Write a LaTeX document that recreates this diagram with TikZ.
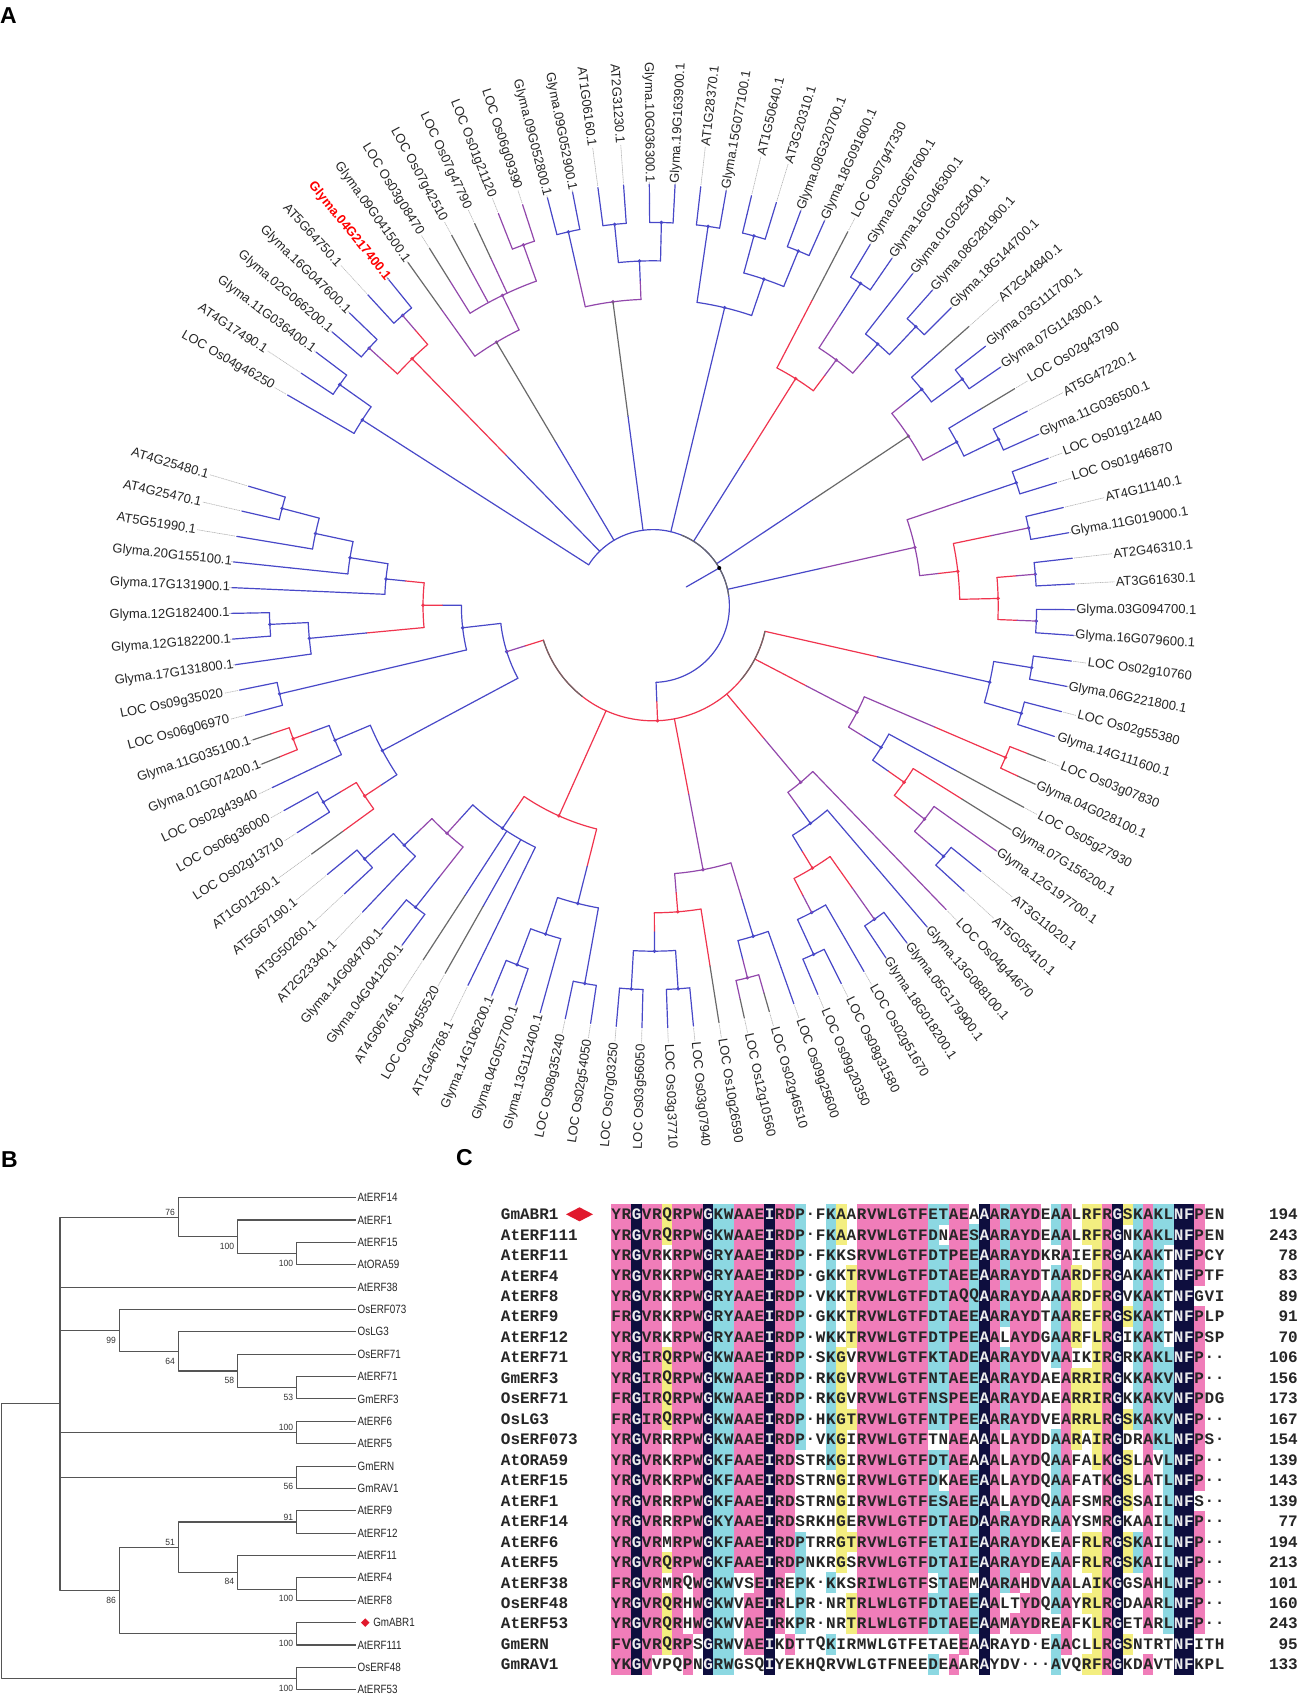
\documentclass[tikz,border=0pt]{standalone}
\usepackage{fontspec}
\setmainfont{Liberation Sans}
\newfontfamily\seqfont{Liberation Mono}
\usepackage{xstring}

\definecolor{bl}{RGB}{72,72,200}
\definecolor{rd}{RGB}{240,52,78}
\definecolor{pu}{RGB}{146,72,172}
\definecolor{gy}{RGB}{105,105,105}
\definecolor{treeg}{RGB}{85,85,85}
\definecolor{colp}{RGB}{240,125,185}
\definecolor{colc}{RGB}{140,216,226}
\definecolor{coly}{RGB}{243,238,128}
\definecolor{coln}{RGB}{14,14,62}
\definecolor{dmd}{RGB}{225,25,45}

% clade: height, first child, last child, colour, children pos/height/colour
\newcommand{\cl}[5]{%
  \pgfmathsetmacro\rpar{422-38.4*#1}%
  \pgfmathsetmacro\angA{150-3.5*(#2-1)}%
  \pgfmathsetmacro\angB{150-3.5*(#3-1)}%
  \draw[#4] (\angA:\rpar) arc[start angle=\angA, end angle=\angB, radius=\rpar];%
  \foreach \pp/\hh/\ccol in {#5}{%
    \pgfmathsetmacro\aa{150-3.5*(\pp-1)}%
    \pgfmathsetmacro\rch{422-38.4*\hh}%
    \pgfmathsetmacro\rmid{(\rpar+\rch)/2}%
    \draw[#4] (\aa:\rpar) -- (\aa:\rmid);
    \draw[\ccol] (\aa:\rmid) -- (\aa:\rch);
  }%
  \fill[#4] ({(\angA+\angB)/2}:\rpar) circle (1.9);%
}
\newcommand{\hilite}[1]{\textcolor{red}{\bfseries #1}}
\newcommand{\yB}[1]{-1197.6-22.37*#1}

\def\colspec{p/YF,p/RKV,n/G,p/VI,p/R,y/Q,p/R,p/P,p/W,n/G,c/KR,c/WYF,p/A,p/A,p/E,n/I,p/R,p/D,c/P,w/+,w/+,c/K,y/GA,y/T,p/R,p/VIL,p/W,p/L,p/G,p/T,p/F,c/DENK,c/TS,p/AP,p/EQDI,c/EDQS,n/A,p/A,c/R,p/A,p/Y,p/D,w/+,c/A,p/A,y/R,y/R,y/FIL,p/RK,n/G,y/S,c/K,p/A,c/K,c/LVI,n/N,n/F,p/P,w/+,w/+}

\tikzset{
  lab/.style={font=\fontsize{13}{15}\selectfont, inner sep=1pt, text=black!85},
  dotl/.style={gray!55, densely dotted, line width=0.7},
  leafB/.style={anchor=west, inner sep=1.5pt, font=\fontsize{12}{14}\selectfont, xscale=.82, text=black!85},
  bs/.style={anchor=east, inner sep=0pt, font=\fontsize{9}{10}\selectfont, xscale=.95, text=black!80},
  res/.style={font=\seqfont\bfseries\fontsize{16}{16}\selectfont, inner sep=0pt},
  panel/.style={font=\bfseries\fontsize{23}{23}\selectfont, inner sep=0pt}
}

\begin{document}
\begin{tikzpicture}[x=1pt, y=1pt, line join=round]
\useasboundingbox (0,0) rectangle (1299,-1695);
\fill[white] (0,0) rectangle (1299,-1695);

% A
\node[panel, anchor=north west] at (0,-7.5) {A};
\begin{scope}[shift={(653,-606)}, line width=1.2, line cap=round]
\cl{1}{2}{3}{bl}{2/0/bl,3/0/bl}
\cl{2}{1}{2.5}{bl}{1/0/bl,2.5/1/bl}
\cl{1}{4}{5}{bl}{4/0/bl,5/0/bl}
\cl{1}{6}{7}{bl}{6/0/bl,7/0/bl}
\cl{2}{4.5}{6.5}{rd}{4.5/1/pu,6.5/1/pu}
\cl{1}{12}{13}{pu}{12/0/pu,13/0/pu}
\cl{2}{9}{12.5}{pu}{9/0/gy,10/0/gy,11/0/gy,12.5/1/pu}
\cl{3}{8}{10.75}{pu}{8/0/gy,10.75/2/pu}
\cl{1}{14}{15}{bl}{14/0/bl,15/0/bl}
\cl{1}{16}{17}{bl}{16/0/bl,17/0/bl}
\cl{1}{18}{19}{bl}{18/0/bl,19/0/bl}
\cl{2}{16.5}{18.5}{bl}{16.5/1/bl,18.5/1/bl}
\cl{3}{14.5}{17.5}{pu}{14.5/1/bl,17.5/2/bl}
\cl{1}{20}{21}{bl}{20/0/bl,21/0/bl}
\cl{1}{22}{23}{bl}{22/0/bl,23/0/bl}
\cl{1}{24}{25}{bl}{24/0/bl,25/0/bl}
\cl{2}{22.5}{24.5}{bl}{22.5/1/bl,24.5/1/bl}
\cl{3}{20.5}{23.5}{bl}{20.5/1/bl,23.5/2/bl}
\cl{1}{27}{28}{bl}{27/0/bl,28/0/bl}
\cl{1}{30}{31}{bl}{30/0/bl,31/0/bl}
\cl{2}{29}{30.5}{bl}{29/0/bl,30.5/1/bl}
\cl{3}{27.5}{29.75}{pu}{27.5/1/bl,29.75/2/bl}
\cl{4}{26}{28.625}{rd}{26/0/gy,28.625/3/pu}
\cl{1}{33}{34}{bl}{33/0/bl,34/0/bl}
\cl{2}{32}{33.5}{bl}{32/0/gy,33.5/1/bl}
\cl{1}{36}{37}{bl}{36/0/bl,37/0/bl}
\cl{2}{35}{36.5}{bl}{35/0/gy,36.5/1/bl}
\cl{3}{32.75}{35.75}{pu}{32.75/2/bl,35.75/2/bl}
\cl{1}{38}{39}{bl}{38/0/bl,39/0/bl}
\cl{1}{40}{41}{bl}{40/0/bl,41/0/bl}
\cl{1}{42}{43}{bl}{42/0/bl,43/0/bl}
\cl{1}{44}{45}{bl}{44/0/bl,45/0/bl}
\cl{2}{42.5}{44.5}{rd}{42.5/1/pu,44.5/1/pu}
\cl{3}{40.5}{43.5}{rd}{40.5/1/pu,43.5/2/rd}
\cl{4}{38.5}{42}{pu}{38.5/1/bl,42/3/rd}
\cl{1}{46}{47}{bl}{46/0/bl,47/0/bl}
\cl{1}{48}{49}{bl}{48/0/bl,49/0/bl}
\cl{2}{46.5}{48.5}{bl}{46.5/1/bl,48.5/1/bl}
\cl{1}{50}{51}{rd}{50/0/gy,51/0/gy}
\cl{1}{55}{56}{bl}{55/0/bl,56/0/bl}
\cl{2}{54}{55.5}{pu}{54/0/pu,55.5/1/bl}
\cl{3}{53}{54.75}{rd}{53/0/gy,54.75/2/pu}
\cl{4}{52}{53.875}{bl}{52/0/gy,53.875/3/rd}
\cl{5}{50.5}{52.9375}{pu}{50.5/1/rd,52.9375/4/bl}
\cl{1}{59}{60}{bl}{59/0/bl,60/0/bl}
\cl{1}{62}{63}{bl}{62/0/bl,63/0/bl}
\cl{2}{61}{62.5}{bl}{61/0/bl,62.5/1/bl}
\cl{3}{59.5}{61.75}{rd}{59.5/1/pu,61.75/2/pu}
\cl{4}{58}{60.625}{bl}{58/0/bl,60.625/3/rd}
\cl{5}{57}{59.3125}{pu}{57/0/pu,59.3125/4/bl}
\cl{1}{65}{66}{pu}{65/0/gy,66/0/gy}
\cl{2}{64}{65.5}{bl}{64/0/bl,65.5/1/pu}
\cl{1}{68}{69}{bl}{68/0/bl,69/0/bl}
\cl{1}{70}{71}{bl}{70/0/bl,71/0/bl}
\cl{2}{68.5}{70.5}{bl}{68.5/1/bl,70.5/1/bl}
\cl{3}{67}{69.5}{rd}{67/0/gy,69.5/2/bl}
\cl{4}{64.75}{68.25}{pu}{64.75/2/bl,68.25/3/rd}
\cl{1}{72}{73}{bl}{72/0/bl,73/0/bl}
\cl{1}{75}{76}{bl}{75/0/bl,76/0/bl}
\cl{2}{74}{75.5}{bl}{74/0/bl,75.5/1/bl}
\cl{3}{72.5}{74.75}{bl}{72.5/1/bl,74.75/2/bl}
\cl{1}{80}{81}{bl}{80/0/bl,81/0/bl}
\cl{1}{83}{84}{bl}{83/0/bl,84/0/bl}
\cl{2}{82}{83.5}{bl}{82/0/bl,83.5/1/bl}
\cl{3}{80.5}{82.75}{pu}{80.5/1/bl,82.75/2/bl}
\cl{4}{77}{81.625}{bl}{77/0/bl,78/0/gy,79/0/gy,81.625/3/pu}
\cl{5}{73.625}{79.3125}{rd}{73.625/3/bl,79.3125/4/bl}
\cl{1}{86}{87}{bl}{86/0/bl,87/0/bl}
\cl{2}{85}{86.5}{rd}{85/0/gy,86.5/1/bl}
\cl{1}{89}{90}{rd}{89/0/gy,90/0/gy}
\cl{2}{88}{89.5}{bl}{88/0/bl,89.5/1/rd}
\cl{3}{85.75}{88.75}{bl}{85.75/2/rd,88.75/2/bl}
\cl{1}{91}{92}{bl}{91/0/bl,92/0/bl}
\cl{1}{94}{95}{bl}{94/0/bl,95/0/bl}
\cl{2}{93}{94.5}{bl}{93/0/bl,94.5/1/bl}
\cl{1}{99}{100}{bl}{99/0/bl,100/0/bl}
\cl{2}{98}{99.5}{bl}{98/0/bl,99.5/1/bl}
\cl{3}{97}{98.75}{bl}{97/0/bl,98.75/2/bl}
\cl{4}{96}{97.875}{bl}{96/0/bl,97.875/3/bl}
\cl{5}{93.75}{96.9375}{rd}{93.75/2/bl,96.9375/4/bl}
\cl{6}{91.5}{95.34375}{bl}{91.5/1/bl,95.34375/5/rd}
\cl{7}{87.25}{93.421875}{bl}{87.25/3/bl,93.421875/6/bl}
\cl{8}{47.5}{90.3359}{rd}{47.5/2/bl,51.71875/5/pu,58.15625/5/pu,66.5/4/pu,76.46875/5/rd,90.3359/7/pu}
\cl{9}{1.75}{68.918}{bl}{1.75/2/bl,5.5/2/rd,9.375/3/gy,16/3/gy,22/3/bl,27.3125/4/rd,34.25/3/gy,40.25/4/pu,68.918/8/rd}
\draw[gy] (68:76.4) arc[start angle=68, end angle=8, radius=76.4];
\draw[gy] (-12.75:114.8) arc[start angle=-12.75, end angle=-40, radius=114.8];
\draw[gy] (-128:114.8) arc[start angle=-128, end angle=-162.68, radius=114.8];
\draw[bl] (29.83:38.4) -- (29.83:76.4);
\fill[black] (29.83:76.4) circle (2);
\foreach \nm [count=\n] in {LOC Os04g46250, AT4G17490.1, Glyma.11G036400.1, Glyma.02G066200.1, Glyma.16G047600.1, AT5G64750.1, \hilite{Glyma.04G217400.1}, Glyma.09G041500.1, LOC Os03g08470, LOC Os07g42510, LOC Os07g47790, LOC Os01g21120, LOC Os06g09390, Glyma.09G052800.1, Glyma.09G052900.1, AT1G06160.1, AT2G31230.1, Glyma.10G036300.1, Glyma.19G163900.1, AT1G28370.1, Glyma.15G077100.1, AT1G50640.1, AT3G20310.1, Glyma.08G320700.1, Glyma.18G091600.1, LOC Os07g47330, Glyma.02G067600.1, Glyma.16G046300.1, Glyma.01G025400.1, Glyma.08G281900.1, Glyma.18G144700.1, AT2G44840.1, Glyma.03G111700.1, Glyma.07G114300.1, LOC Os02g43790, AT5G47220.1, Glyma.11G036500.1, LOC Os01g12440, LOC Os01g46870, AT4G11140.1, Glyma.11G019000.1, AT2G46310.1, AT3G61630.1, Glyma.03G094700.1, Glyma.16G079600.1, LOC Os02g10760, Glyma.06G221800.1, LOC Os02g55380, Glyma.14G111600.1, LOC Os03g07830, Glyma.04G028100.1, LOC Os05g27930, Glyma.07G156200.1, Glyma.12G197700.1, AT3G11020.1, AT5G05410.1, LOC Os04g44670, Glyma.13G088100.1, Glyma.05G179900.1, Glyma.18G018200.1, LOC Os02g51670, LOC Os08g31580, LOC Os09g20350, LOC Os09g25600, LOC Os02g46510, LOC Os12g10560, LOC Os10g26590, LOC Os03g07940, LOC Os03g37710, LOC Os03g56050, LOC Os07g03250, LOC Os02g54050, LOC Os08g35240, Glyma.13G112400.1, Glyma.04G057700.1, Glyma.14G106200.1, AT1G46768.1, LOC Os04g55520, AT4G06746.1, Glyma.04G041200.1, Glyma.14G084700.1, AT2G23340.1, AT3G50260.1, AT5G67190.1, AT1G01250.1, LOC Os02g13710, LOC Os06g36000, LOC Os02g43940, Glyma.01G074200.1, Glyma.11G035100.1, LOC Os06g06970, LOC Os09g35020, Glyma.17G131800.1, Glyma.12G182200.1, Glyma.12G182400.1, Glyma.17G131900.1, Glyma.20G155100.1, AT5G51990.1, AT4G25470.1, AT4G25480.1}{
  \pgfmathsetmacro\la{150-3.5*(\n-1)}
  \pgfmathtruncatemacro\rs{cos(\la)>=0}
  \ifnum\rs=1
    \node[lab, anchor=east, rotate=\la] (t\n) at (\la:545) {\nm};
    \draw[dotl] (\la:424) -- (t\n.west);
  \else
    \pgfmathsetmacro\lb{\la+180}
    \node[lab, anchor=west, rotate=\lb] (t\n) at (\la:545) {\nm};
    \draw[dotl] (\la:424) -- (t\n.east);
  \fi
}
\end{scope}

% B
\node[panel, anchor=north west] at (1,-1151.5) {B};
\begin{scope}[draw=treeg, line width=1.1]
\foreach \nm [count=\k from 0] in {AtERF14, AtERF1, AtERF15, AtORA59, AtERF38, OsERF073, OsLG3, OsERF71, AtERF71, GmERF3, AtERF6, AtERF5, GmERN, GmRAV1, AtERF9, AtERF12, AtERF11, AtERF4, AtERF8, {\hspace{19pt}GmABR1}, AtERF111, OsERF48, AtERF53}
  \node[leafB] (b\k) at (356,{\yB{\k}}) {\nm};
\fill[dmd] (360.9,{\yB{19}}) -- (365.2,{\yB{19}+4.3}) -- (369.5,{\yB{19}}) -- (365.2,{\yB{19}-4.3}) -- cycle;
\coordinate (c23) at (296.7,{\yB{2.5}});
\coordinate (c123) at (237.7,{\yB{1.75}});
\coordinate (c0123) at (178.3,{\yB{0.875}});
\coordinate (c89) at (296.7,{\yB{8.5}});
\coordinate (c789) at (237.7,{\yB{7.75}});
\coordinate (c6789) at (178.3,{\yB{6.875}});
\coordinate (c5to9) at (119.3,{\yB{5.9375}});
\coordinate (c1011) at (296.7,{\yB{10.5}});
\coordinate (c1213) at (296.7,{\yB{12.5}});
\coordinate (c1415) at (296.7,{\yB{14.5}});
\coordinate (c1718) at (296.7,{\yB{17.5}});
\coordinate (c16to18) at (237.7,{\yB{16.75}});
\coordinate (c14to18) at (178.3,{\yB{15.625}});
\coordinate (c1920) at (296.7,{\yB{19.5}});
\coordinate (c14to20) at (119.3,{\yB{17.5625}});
\coordinate (cN) at (60,{\yB{9.21875}});
\coordinate (c2122) at (296.7,{\yB{21.5}});
\coordinate (cR) at (1.7,{\yB{15.36}});
\draw (c23) |- (b2.west) (c23) |- (b3.west);
\draw (c123) |- (b1.west) (c123) |- (c23);
\draw (c0123) |- (b0.west) (c0123) |- (c123);
\draw (c89) |- (b8.west) (c89) |- (b9.west);
\draw (c789) |- (b7.west) (c789) |- (c89);
\draw (c6789) |- (b6.west) (c6789) |- (c789);
\draw (c5to9) |- (b5.west) (c5to9) |- (c6789);
\draw (c1011) |- (b10.west) (c1011) |- (b11.west);
\draw (c1213) |- (b12.west) (c1213) |- (b13.west);
\draw (c1415) |- (b14.west) (c1415) |- (b15.west);
\draw (c1718) |- (b17.west) (c1718) |- (b18.west);
\draw (c16to18) |- (b16.west) (c16to18) |- (c1718);
\draw (c14to18) |- (c1415) (c14to18) |- (c16to18);
\draw (c1920) |- (b19.west) (c1920) |- (b20.west);
\draw (c14to20) |- (c14to18) (c14to20) |- (c1920);
\draw (cN) |- (c0123) (cN) |- (b4.west) (cN) |- (c5to9) (cN) |- (c1011) (cN) |- (c1213) (cN) |- (c14to20);
\draw (c2122) |- (b21.west) (c2122) |- (b22.west);
\draw (cR) |- (cN) (cR) |- (c2122);
\node[bs] at ([xshift=-3pt,yshift=5pt]c0123) {76};
\node[bs] at ([xshift=-3pt,yshift=-9.5pt]c123) {100};
\node[bs] at ([xshift=-3pt,yshift=-9.5pt]c23) {100};
\node[bs] at ([xshift=-3pt,yshift=-9.5pt]c5to9) {99};
\node[bs] at ([xshift=-3pt,yshift=-9.5pt]c6789) {64};
\node[bs] at ([xshift=-3pt,yshift=-9.5pt]c789) {58};
\node[bs] at ([xshift=-3pt,yshift=-9.5pt]c89) {53};
\node[bs] at ([xshift=-3pt,yshift=5pt]c1011) {100};
\node[bs] at ([xshift=-3pt,yshift=-9.5pt]c1213) {56};
\node[bs] at ([xshift=-3pt,yshift=5pt]c1415) {91};
\node[bs] at ([xshift=-3pt,yshift=5pt]c14to18) {51};
\node[bs] at ([xshift=-3pt,yshift=-9.5pt]c16to18) {84};
\node[bs] at ([xshift=-3pt,yshift=-9.5pt]c1718) {100};
\node[bs] at ([xshift=-3pt,yshift=-9.5pt]c14to20) {86};
\node[bs] at ([xshift=-3pt,yshift=-9.5pt]c1920) {100};
\node[bs] at ([xshift=-3pt,yshift=-9.5pt]c2122) {100};
\end{scope}

% C  (gaps written as - and printed as dots)
\node[panel, anchor=north west] at (456,-1149) {C};
\foreach \nm/\sq/\nb [count=\i from 0] in {
  GmABR1/YRGVRQRPWGKWAAEIRDP-FKAARVWLGTFETAEAAARAYDEAALRFRGSKAKLNFPEN/194,
  AtERF111/YRGVRQRPWGKWAAEIRDP-FKAARVWLGTFDNAESAARAYDEAALRFRGNKAKLNFPEN/243,
  AtERF11/YRGVRKRPWGRYAAEIRDP-FKKSRVWLGTFDTPEEAARAYDKRAIEFRGAKAKTNFPCY/78,
  AtERF4/YRGVRKRPWGRYAAEIRDP-GKKTRVWLGTFDTAEEAARAYDTAARDFRGAKAKTNFPTF/83,
  AtERF8/YRGVRKRPWGRYAAEIRDP-VKKTRVWLGTFDTAQQAARAYDAAARDFRGVKAKTNFGVI/89,
  AtERF9/FRGVRKRPWGRYAAEIRDP-GKKTRVWLGTFDTAEEAARAYDTAAREFRGSKAKTNFPLP/91,
  AtERF12/YRGVRKRPWGRYAAEIRDP-WKKTRVWLGTFDTPEEAALAYDGAARFLRGIKAKTNFPSP/70,
  AtERF71/YRGIRQRPWGKWAAEIRDP-SKGVRVWLGTFKTADEAARAYDVAAIKIRGRKAKLNFP--/106,
  GmERF3/YRGIRQRPWGKWAAEIRDP-RKGVRVWLGTFNTAEEAARAYDAEARRIRGKKAKVNFP--/156,
  OsERF71/FRGIRQRPWGKWAAEIRDP-RKGVRVWLGTFNSPEEAARAYDAEARRIRGKKAKVNFPDG/173,
  OsLG3/FRGIRQRPWGKWAAEIRDP-HKGTRVWLGTFNTPEEAARAYDVEARRLRGSKAKVNFP--/167,
  OsERF073/YRGVRRRPWGKWAAEIRDP-VKGIRVWLGTFTNAEAAALAYDDAARAIRGDRAKLNFPS-/154,
  AtORA59/YRGVRKRPWGKFAAEIRDSTRKGIRVWLGTFDTAEAAALAYDQAAFALKGSLAVLNFP--/139,
  AtERF15/YRGVRKRPWGKFAAEIRDSTRNGIRVWLGTFDKAEEAALAYDQAAFATKGSLATLNFP--/143,
  AtERF1/YRGVRRRPWGKFAAEIRDSTRNGIRVWLGTFESAEEAALAYDQAAFSMRGSSAILNFS--/139,
  AtERF14/YRGVRRRPWGKYAAEIRDSRKHGERVWLGTFDTAEDAARAYDRAAYSMRGKAAILNFP--/77,
  AtERF6/YRGVRMRPWGKFAAEIRDPTRRGTRVWLGTFETAIEAARAYDKEAFRLRGSKAILNFP--/194,
  AtERF5/YRGVRQRPWGKFAAEIRDPNKRGSRVWLGTFDTAIEAARAYDEAAFRLRGSKAILNFP--/213,
  AtERF38/FRGVRMRQWGKWVSEIREPK-KKSRIWLGTFSTAEMAARAHDVAALAIKGGSAHLNFP--/101,
  OsERF48/YRGVRQRHWGKWVAEIRLPR-NRTRLWLGTFDTAEEAALTYDQAAYRLRGDAARLNFP--/160,
  AtERF53/YRGVRQRHWGKWVAEIRKPR-NRTRLWLGTFDTAEEAAMAYDREAFKLRGETARLNFP--/243,
  GmERN/FVGVRQRPSGRWVAEIKDTTQKIRMWLGTFETAEEAARAYD-EAACLLRGSNTRTNFITH/95,
  GmRAV1/YKGVVPQPNGRWGSQIYEKHQRVWLGTFNEEDEAARAYDV---AVQRFRGKDAVTNFKPL/133}{
  \pgfmathsetmacro\yy{-1214.3-20.47*\i}
  \node[res, anchor=west, text=black!85] (nm\i) at (500.7,\yy) {\nm};
  \node[res, anchor=east, text=black!85] (nb\i) at (1298,\yy) {\nb};
  \foreach \cf/\mm [count=\k] in \colspec {
    \StrChar{\sq}{\k}[\ch]
    \IfSubStr{\mm}{\ch}{\def\ok{1}}{\def\ok{0}}
    \def\tc{black!85}
    \if1\ok
      \fill[col\cf] ({611+10.23*(\k-1)},{\yy+10.3}) rectangle ++(10.5,-20.8);
      \if n\cf \def\tc{white!85!gray}\fi
    \fi
    \if-\ch \def\ch{.}\fi
    \node[res, text=\tc] at ({616.1+10.23*(\k-1)},\yy) {\ch};
  }
}
\fill[dmd] (566,-1214.3) -- (579.5,-1207.3) -- (593,-1214.3) -- (579.5,-1221.3) -- cycle;
\end{tikzpicture}
\end{document}
